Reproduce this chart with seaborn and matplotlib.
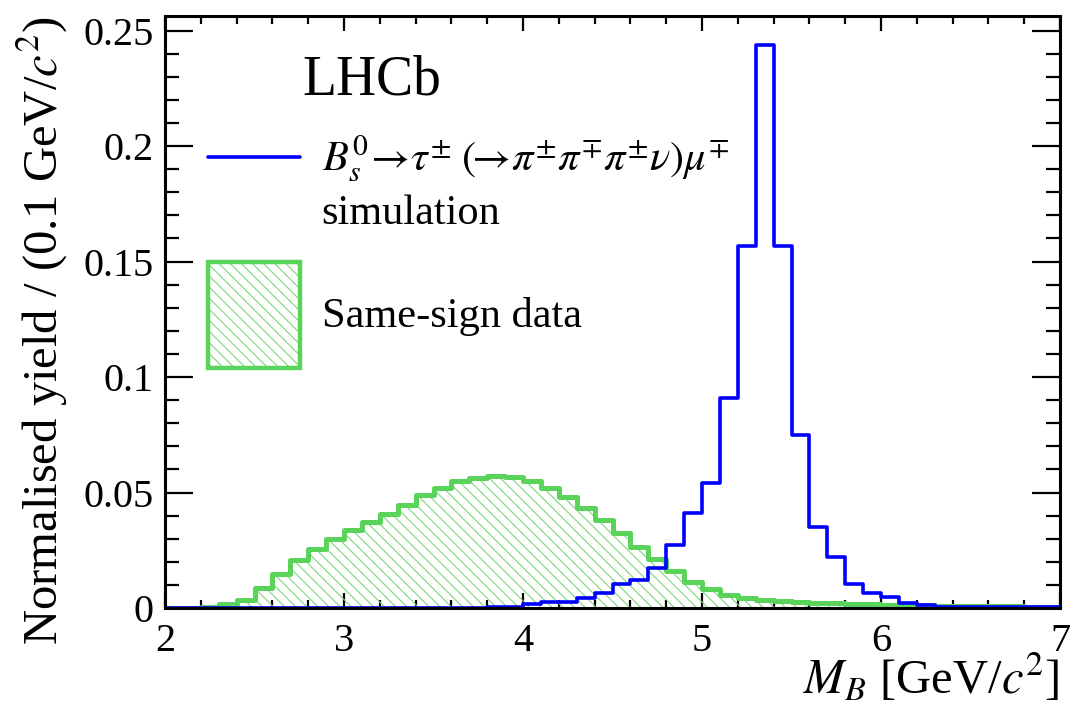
import numpy as np
import pandas as pd
import matplotlib
matplotlib.use("Agg")
import matplotlib.pyplot as plt
import seaborn as sns
from matplotlib.lines import Line2D
from matplotlib.patches import Patch
from matplotlib.legend_handler import HandlerTuple
from matplotlib.ticker import MultipleLocator, FuncFormatter

# ---------------- data (normalised yield per 0.1 GeV/c^2 bin, 2.0 -> 7.0) -------------
bin_lo = [round(2.0 + 0.1 * i, 1) for i in range(50)]

same_sign = [0.0002, 0.0002, 0.0003, 0.0016, 0.0035, 0.0085, 0.0146, 0.0206, 0.0257, 0.0300,
             0.0336, 0.0374, 0.0406, 0.0444, 0.0489, 0.0521, 0.0549, 0.0561, 0.0571, 0.0566,
             0.0551, 0.0521, 0.0479, 0.0433, 0.0381, 0.0323, 0.0265, 0.0211, 0.0161, 0.0114,
             0.0081, 0.0058, 0.0045, 0.0035, 0.0030, 0.0026, 0.0023, 0.0020, 0.0018, 0.0016,
             0.0014, 0.0012, 0.0011, 0.0010, 0.0009, 0.0008, 0.0007, 0.0007, 0.0006, 0.0006]

simulation = [0.0002, 0.0002, 0.0002, 0.0002, 0.0002, 0.0002, 0.0002, 0.0002, 0.0002, 0.0002,
              0.0002, 0.0002, 0.0002, 0.0002, 0.0002, 0.0002, 0.0002, 0.0002, 0.0005, 0.0004,
              0.0019, 0.0027, 0.0027, 0.0044, 0.0066, 0.0106, 0.0120, 0.0171, 0.0271, 0.0412,
              0.0541, 0.0911, 0.1568, 0.2438, 0.1568, 0.0749, 0.0352, 0.0220, 0.0104, 0.0066,
              0.0046, 0.0020, 0.0014, 0.0006, 0.0005, 0.0004, 0.0004, 0.0003, 0.0003, 0.0003]

x_ticks = [2, 3, 4, 5, 6, 7]
y_ticks = [0, 0.05, 0.1, 0.15, 0.2, 0.25]

sig_label = r"$B_s^0\!\rightarrow\!\tau^{\pm}\;(\!\!\rightarrow\!\pi^{\pm}\pi^{\mp}\pi^{\pm}\nu)\mu^{\mp}$"
sim_label = "simulation"
bkg_label = "Same-sign data"

# ---------------- style ----------------
sns.set_style("ticks")
plt.rcParams["font.family"] = ["Liberation Serif", "DejaVu Serif"]
plt.rcParams["mathtext.fontset"] = "stix"
plt.rcParams["hatch.linewidth"] = 0.8
for key in ["text.color", "axes.labelcolor", "xtick.color", "ytick.color", "axes.edgecolor"]:
    plt.rcParams[key] = "black"

BLUE = "#0000ff"
GREEN = "#5ad35a"
HATCH = "#7ad87a"

df = pd.DataFrame({"lo": bin_lo, "bkg": same_sign, "sig": simulation})
df["centre"] = df["lo"] + 0.05
hist_kws = dict(data=df, x="centre", bins=50, binrange=(2.0, 7.0), element="step")

fig = plt.figure(figsize=(10.83, 7.05), dpi=100)
ax = fig.add_axes([0.1524, 0.1376, 0.8264, 0.8397])

# same-sign data: hatched fill + thick outline
sns.histplot(weights="bkg", fill=True, color=HATCH, facecolor="none", edgecolor=HATCH,
             linewidth=0, hatch="\\\\\\", ax=ax, **hist_kws)
sns.histplot(weights="bkg", fill=False, color=GREEN, linewidth=3.6, ax=ax, **hist_kws)
# simulation
sns.histplot(weights="sig", fill=False, color=BLUE, linewidth=2.6, ax=ax, **hist_kws)

ax.set_xlim(2, 7)
ax.set_ylim(0, 0.2563)

ax.xaxis.set_minor_locator(MultipleLocator(0.2))
ax.yaxis.set_minor_locator(MultipleLocator(0.01))
ax.set_xticks(x_ticks)
ax.set_yticks(y_ticks)
ax.yaxis.set_major_formatter(FuncFormatter(lambda v, p: "%g" % round(v, 3)))
ax.xaxis.set_major_formatter(FuncFormatter(lambda v, p: "%g" % v))

ax.tick_params(axis="both", which="both", direction="in", top=True, right=True,
               width=1.6, color="black", labelcolor="black", labelsize=29)
ax.tick_params(axis="x", which="major", length=11, pad=11)
ax.tick_params(axis="x", which="minor", length=6)
ax.tick_params(axis="y", which="major", length=20, pad=8)
ax.tick_params(axis="y", which="minor", length=10)
for s in ax.spines.values():
    s.set_linewidth(2.2)
    s.set_color("black")
    s.set_visible(True)

ax.set_xlabel(r"$M_B$ [GeV/$c^2$]", fontsize=35, loc="right", labelpad=-6, color="black")
ax.set_ylabel(r"Normalised yield / (0.1 GeV/$c^2$)", fontsize=35, loc="top", labelpad=10,
              color="black")

ax.text(0.153, 0.8666, "LHCb", transform=ax.transAxes, fontsize=40, va="baseline", ha="left",
        color="black")

h_line = Line2D([], [], color=BLUE, lw=2.6)
h_blank = Line2D([], [], color="none")
leg1 = ax.legend([h_line, h_blank], [sig_label, sim_label], loc="upper left",
                 bbox_to_anchor=(0.048, 0.80), borderpad=0, borderaxespad=0, frameon=False,
                 fontsize=30.5, handlelength=2.16, handleheight=0.7, handletextpad=0.52,
                 labelspacing=0.2, labelcolor="black")
ax.add_artist(leg1)

h_hatch = Patch(facecolor="none", edgecolor=HATCH, lw=0, hatch="\\\\\\")
h_edge = Patch(facecolor="none", edgecolor=GREEN, lw=3.2)
leg2 = ax.legend([(h_hatch, h_edge)], [bkg_label], handler_map={tuple: HandlerTuple(ndivide=1)},
                 loc="upper left", bbox_to_anchor=(0.048, 0.584), borderpad=0, borderaxespad=0,
                 frameon=False, fontsize=30.5, handlelength=2.16, handleheight=3.47,
                 handletextpad=0.52, labelcolor="black")

fig.savefig("out.png", dpi=100)
